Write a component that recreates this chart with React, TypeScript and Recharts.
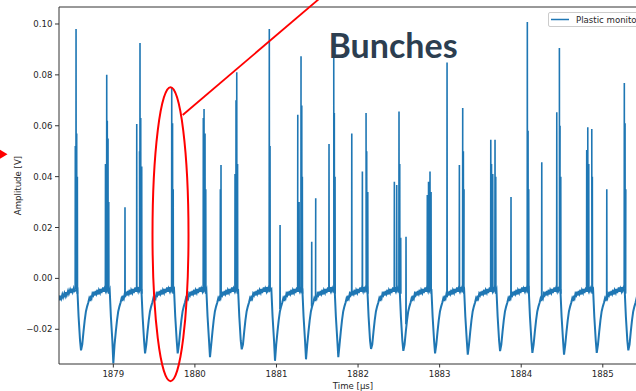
import { LineChart, Line, XAxis, YAxis, ReferenceLine, Label } from 'recharts';

// Axis ranges
const X_MIN = 1878.334;
const X_MAX = 1885.542;
const Y_MIN = -0.03365;
const Y_MAX = 0.10668;

const xTicks = [1879, 1880, 1881, 1882, 1883, 1884, 1885];
const yTicks = [-0.02, 0, 0.02, 0.04, 0.06, 0.08, 0.1];

// Time of the bottom of each undershoot (µs) and its depth (V)
const dipTimes = [
  1878.604, 1879.0, 1879.389, 1879.789, 1880.185, 1880.574, 1880.982, 1881.362, 1881.758,
  1882.159, 1882.555, 1882.944, 1883.345, 1883.741, 1884.137, 1884.525, 1884.926, 1885.313,
];
const dipDepths = [
  -0.0283, -0.0334, -0.0295, -0.0295, -0.031, -0.0279, -0.0324, -0.0318, -0.031,
  -0.0277, -0.0285, -0.0295, -0.03, -0.0286, -0.0293, -0.03, -0.0293, -0.0283,
];

// Shape of one undershoot + noisy recovery, read from the bunches (offset from the dip in µs)
const pulseOffsets = [
  -0.045, -0.03, -0.012, 0, 0.015, 0.03, 0.045, 0.06, 0.075, 0.09, 0.1, 0.11, 0.12, 0.13,
  0.14, 0.15, 0.16, 0.172, 0.18, 0.19, 0.2, 0.212, 0.22, 0.232, 0.24, 0.25, 0.262, 0.27,
  0.28, 0.29, 0.302, 0.31, 0.32, 0.33, 0.34,
];
const pulseLevels: (number | null)[] = [
  -0.0042, -0.015, -0.0245, null, -0.026, -0.021, -0.0165, -0.013, -0.011, -0.0094, -0.008,
  -0.0089, -0.0068, -0.0077, -0.006, -0.0066, -0.0052, -0.0067, -0.0049, -0.0059, -0.0045,
  -0.0063, -0.0047, -0.0056, -0.0041, -0.0057, -0.0044, -0.0036, -0.0053, -0.004, -0.005,
  -0.0034, -0.0047, -0.0038, -0.0049,
];

// Start of the trace, before the first bunch
const leadIn: [number, number][] = [
  [1878.3, -0.008], [1878.33, -0.0072], [1878.342, -0.0086], [1878.35, -0.0068],
  [1878.362, -0.0079], [1878.375, -0.0063], [1878.385, -0.0074], [1878.4, -0.0058],
  [1878.41, -0.0069], [1878.422, -0.0054], [1878.43, -0.0065], [1878.445, -0.0049],
  [1878.455, -0.006], [1878.47, -0.0045], [1878.48, -0.0057], [1878.492, -0.0041],
  [1878.502, -0.0053], [1878.515, -0.0039], [1878.525, -0.005],
];

// Narrow pulses: [time µs, peak V, foot V]
const spikes: [number, number, number][] = [
  [1878.534, 0.052, -0.004], [1878.543, 0.098, -0.004], [1878.551, 0.057, -0.004], [1878.559, 0.04, -0.006],
  [1878.904, 0.045, -0.004], [1878.919, 0.08, -0.004], [1878.926, 0.062, -0.004], [1878.935, 0.055, -0.004], [1878.944, 0.03, -0.006],
  [1879.143, 0.028, -0.0065],
  [1879.287, 0.0607, -0.004], [1879.321, 0.05, -0.004], [1879.327, 0.0925, -0.004], [1879.336, 0.063, -0.004], [1879.348, 0.044, -0.006],
  [1879.716, 0.0748, -0.004], [1879.726, 0.061, -0.004], [1879.734, 0.035, -0.006],
  [1880.103, 0.063, -0.004], [1880.112, 0.0666, -0.004], [1880.124, 0.057, -0.004], [1880.133, 0.035, -0.006],
  [1880.312, 0.035, -0.007], [1880.32, 0.0446, -0.007],
  [1880.492, 0.041, -0.004], [1880.504, 0.07, -0.004], [1880.513, 0.081, -0.004], [1880.523, 0.045, -0.006],
  [1880.912, 0.098, -0.004], [1880.921, 0.052, -0.005],
  [1881.044, 0.021, -0.012],
  [1881.261, 0.0643, -0.004], [1881.277, 0.03, -0.004], [1881.301, 0.0873, -0.004], [1881.31, 0.068, -0.004], [1881.317, 0.04, -0.006],
  [1881.432, 0.0144, -0.011], [1881.481, 0.0315, -0.007],
  [1881.644, 0.0528, -0.004], [1881.702, 0.0866, -0.004], [1881.709, 0.065, -0.004], [1881.718, 0.04, -0.006],
  [1881.923, 0.057, -0.006],
  [1882.053, 0.042, -0.004], [1882.098, 0.065, -0.004], [1882.106, 0.05, -0.004], [1882.119, 0.034, -0.006],
  [1882.445, 0.038, -0.004], [1882.474, 0.0367, -0.004], [1882.502, 0.0656, -0.004], [1882.511, 0.045, -0.004], [1882.523, 0.016, -0.006],
  [1882.588, 0.0164, -0.018],
  [1882.849, 0.0328, -0.004], [1882.864, 0.038, -0.004], [1882.882, 0.042, -0.004], [1882.895, 0.034, -0.006],
  [1883.091, 0.0849, -0.0065],
  [1883.242, 0.0446, -0.004], [1883.283, 0.067, -0.004], [1883.291, 0.05, -0.004], [1883.299, 0.035, -0.006],
  [1883.627, 0.0545, -0.004], [1883.636, 0.045, -0.004], [1883.651, 0.041, -0.004], [1883.679, 0.0545, -0.004], [1883.688, 0.04, -0.006],
  [1883.875, 0.032, -0.007],
  [1884.075, 0.1008, -0.004], [1884.084, 0.058, -0.004], [1884.092, 0.035, -0.006],
  [1884.252, 0.0457, -0.0075],
  [1884.436, 0.0653, -0.004], [1884.468, 0.0906, -0.004], [1884.476, 0.06, -0.004], [1884.485, 0.04, -0.006],
  [1884.803, 0.0505, -0.004], [1884.816, 0.0594, -0.004], [1884.828, 0.045, -0.004], [1884.865, 0.0587, -0.004], [1884.872, 0.04, -0.006],
  [1885.049, 0.035, -0.007],
  [1885.264, 0.0768, -0.004], [1885.273, 0.061, -0.004], [1885.282, 0.035, -0.006],
];

type Row = { t: number; base?: number; spike?: number };

const rows: Row[] = [];
leadIn.forEach(([t, v]) => rows.push({ t, base: v }));
dipTimes.forEach((d, i) => {
  const next = i + 1 < dipTimes.length ? dipTimes[i + 1] : Infinity;
  pulseOffsets.forEach((o, k) => {
    const t = d + o;
    if (t >= next - 0.047) return;
    const lvl = pulseLevels[k];
    rows.push({ t, base: lvl === null ? dipDepths[i] : lvl });
  });
});
spikes.forEach(([t, peak, foot]) => {
  rows.push({ t: t - 0.0018, spike: foot }, { t, spike: peak }, { t: t + 0.0018, spike: foot });
});
rows.sort((a, b) => a.t - b.t);

const C0 = '#1f77b4';
const INK = '#262626';
const FONT = 'DejaVu Sans';

const fmtY = (v: number) => (v < 0 ? '\u2212' : '') + Math.abs(v).toFixed(2);

export default function App() {
  return (
    <div style={{ position: 'absolute', left: 0, top: 0, width: 636, height: 391, overflow: 'hidden', background: '#fff' }}>
      <LineChart width={660} height={391} data={rows} margin={{ top: 7, right: 13, bottom: 0, left: 0 }}>
        <XAxis
          dataKey="t"
          type="number"
          domain={[X_MIN, X_MAX]}
          allowDataOverflow
          ticks={xTicks}
          interval={0}
          tickFormatter={(v: number) => String(Math.round(v))}
          height={27}
          tickSize={3.5}
          tickMargin={3}
          stroke="#333"
          tick={{ fill: INK, fontSize: 8.6, fontFamily: FONT }}
        >
          <Label
            content={(p: any) => {
              const vb = p.viewBox || { x: 59, y: 364, width: 588 };
              return (
                <text x={vb.x + vb.width / 2} y={vb.y + 24.5} textAnchor="middle" fill={INK} fontSize={8.6} fontFamily={FONT}>
                  Time [µs]
                </text>
              );
            }}
          />
        </XAxis>
        <YAxis
          type="number"
          domain={[Y_MIN, Y_MAX]}
          allowDataOverflow
          ticks={yTicks}
          interval={0}
          width={59}
          tickFormatter={fmtY}
          tickSize={4}
          tickMargin={2.5}
          stroke="#333"
          tick={{ fill: INK, fontSize: 8.6, fontFamily: FONT }}
        >
          <Label
            content={(p: any) => {
              const vb = p.viewBox || { x: 0, y: 7, height: 357 };
              const cx = vb.x + 21;
              const cy = vb.y + vb.height / 2;
              return (
                <text x={cx} y={cy} transform={`rotate(-90 ${cx} ${cy})`} textAnchor="middle" fill={INK} fontSize={8.6} fontFamily={FONT}>
                  Amplitude [V]
                </text>
              );
            }}
          />
        </YAxis>
        <ReferenceLine y={Y_MAX} stroke="#333" strokeWidth={1} />
        <Line dataKey="base" type="linear" stroke={C0} strokeWidth={2} dot={false} connectNulls isAnimationActive={false} />
        <Line dataKey="spike" type="linear" stroke={C0} strokeWidth={1.6} dot={false} connectNulls={false} isAnimationActive={false} />
      </LineChart>

      {/* legend, cut off at the right edge like the source image */}
      <div
        style={{
          position: 'absolute', left: 547.5, top: 11.5, width: 110, height: 15,
          border: '1px solid #cccccc', borderRadius: 2, background: 'rgba(255,255,255,0.8)', boxSizing: 'border-box',
        }}
      >
        <svg width={110} height={15} style={{ position: 'absolute', left: 0, top: 0 }}>
          <line x1={2} y1={6.5} x2={20} y2={6.5} stroke={C0} strokeWidth={1.5} />
          <text x={27} y={9.6} fill={INK} fontSize={8.6} fontFamily={FONT}>Plastic monitor</text>
        </svg>
      </div>

      {/* red annotation overlay */}
      <svg width={636} height={391} style={{ position: 'absolute', left: 0, top: 0, pointerEvents: 'none' }}>
        <ellipse cx={170.5} cy={234.2} rx={18} ry={147} fill="none" stroke="#ff0000" strokeWidth={2} />
        <line x1={182.7} y1={115} x2={326} y2={-7} stroke="#ff0000" strokeWidth={1.8} />
        <polygon points="-2,148.5 7.5,154.3 -2,160" fill="#ff0000" />
        <text x={328.5} y={58.3} fill="#2c3e50" fontSize={34} fontWeight="bold" fontFamily="Lato">Bunches</text>
      </svg>
    </div>
  );
}
